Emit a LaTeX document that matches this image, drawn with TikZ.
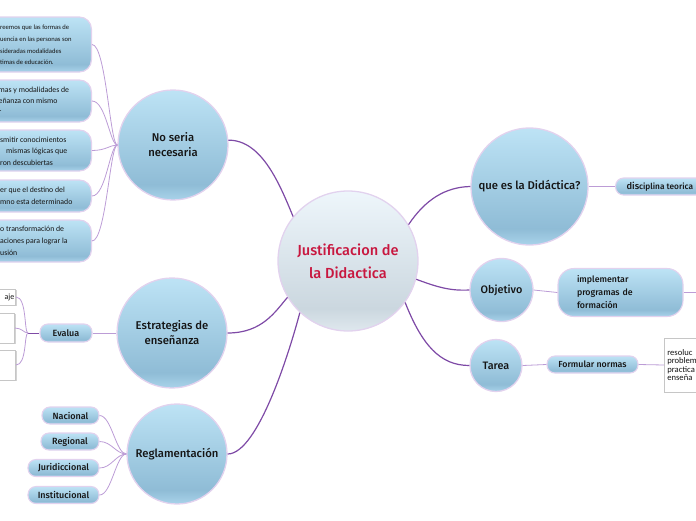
\documentclass[tikz,border=0pt]{standalone}
\usepackage{fontspec}
\setmainfont{Carlito}
\newfontfamily\fira{Fira Sans Medium}
\usetikzlibrary{shadows}
\definecolor{bsT}{HTML}{BDE3F5}
\definecolor{bsD}{HTML}{8FBCD6}
\definecolor{bsB}{HTML}{A9D3EA}
\definecolor{gT}{HTML}{EEF6FB}
\definecolor{gD}{HTML}{CBD7DF}
\definecolor{gB}{HTML}{DFE8EE}
\definecolor{bord}{HTML}{E2D2EE}
\definecolor{txt}{HTML}{151515}
\definecolor{ctxt}{HTML}{C8173F}
\definecolor{mline}{HTML}{7E4AA6}
\definecolor{lline}{HTML}{BC9CD6}
\definecolor{wbord}{HTML}{C6C6C6}
\pgfdeclareverticalshading{bluesh}{100bp}{color(0bp)=(bsB); color(25bp)=(bsB); color(32bp)=(bsD); color(75bp)=(bsT); color(100bp)=(bsT)}
\pgfdeclareverticalshading{greysh}{100bp}{color(0bp)=(gB); color(25bp)=(gB); color(33bp)=(gD); color(75bp)=(gT); color(100bp)=(gT)}
\tikzset{
  circ/.style={circle, draw=bord, line width=1.3pt, shading=bluesh, inner sep=0pt, align=center, font=\fira\fontsize{11.3}{15}\selectfont, text=txt},
  pill/.style={rectangle, rounded corners=8pt, draw=bord, line width=1.1pt, shading=bluesh, inner sep=0pt, font=\fira\fontsize{9}{11}\selectfont, text=txt},
  leafbox/.style={rectangle, rounded corners=12pt, draw=bord, line width=1.2pt, shading=bluesh, inner sep=0pt},
  smalltxt/.style={inner sep=0pt, align=left, text=txt},
  wbox/.style={rectangle, draw=wbord, line width=0.6pt, fill=white, drop shadow={shadow xshift=1pt, shadow yshift=-1pt, opacity=0.35, fill=gray}},
  mainline/.style={draw=mline, line width=1.2pt},
  lightline/.style={draw=lline, line width=0.8pt},
}
\begin{document}
\begin{tikzpicture}[x=1pt,y=-1pt]
\useasboundingbox (0,0) rectangle (696,520);
\clip (0,0) rectangle (696,520);

% ---- left boxes of "No seria necesaria"
\node[leafbox, minimum width=130pt, minimum height=55pt, anchor=east] (nb1) at (92,44.5) {};
\node[leafbox, minimum width=130pt, minimum height=42pt, anchor=east] (nb2) at (92,101) {};
\node[leafbox, minimum width=130pt, minimum height=41pt, anchor=east] (nb3) at (92,150.5) {};
\node[leafbox, minimum width=130pt, minimum height=32pt, anchor=east] (nb4) at (92,196) {};
\node[leafbox, minimum width=130pt, minimum height=42pt, anchor=east] (nb5) at (92,241) {};
\node[smalltxt, anchor=west, font=\fontsize{6.6}{11.7}\selectfont] (nt1) at (0,45) {reemos que las formas de\\uencia en las personas son\\sideradas modalidades\\timas de educación.};
\node[smalltxt, anchor=west, font=\fontsize{7.8}{11}\selectfont] (nt2) at (-1.5,101) {mas y modalidades de\\eñanza con mismo\\r};
\node[smalltxt, anchor=west, font=\fontsize{7.8}{11.5}\selectfont] (nt3) at (0,151) {smitir conocimientos\\\hspace*{6pt}mismas lógicas que\\ron descubiertas};
\node[smalltxt, anchor=west, font=\fontsize{7.8}{12}\selectfont] (nt4) at (0,196) {er que el destino del\\mno esta determinado};
\node[smalltxt, anchor=west, font=\fontsize{7.8}{12}\selectfont] (nt5) at (0,240.5) {o transformación de\\aciones para lograr la\\usión};

% ---- circles
\node[circle, draw=bord, line width=1.3pt, shading=greysh, inner sep=0pt, align=center, minimum size=140pt, font=\fira\fontsize{14.6}{23}\selectfont, text=ctxt] (c) at (348,261) {Justificacion de\\la Didactica};
\node[circ, minimum size=110pt] (ns) at (173,145) {No seria\\necesaria};
\node[circ, minimum size=110pt] (es) at (172,333) {Estrategias de\\enseñanza};
\node[circ, minimum size=100pt] (rg) at (177,454) {Reglamentación};
\node[circ, minimum size=117pt] (qd) at (529.5,186.5) {que es la Didáctica?};
\node[circ, minimum size=63pt, font=\fira\fontsize{10.8}{13}\selectfont] (ob) at (501.5,290) {Objetivo};
\node[circ, minimum size=52pt, font=\fira\fontsize{10.8}{13}\selectfont] (ta) at (496,365.5) {Tarea};

% ---- Estrategias children
\node[pill, minimum width=52pt, minimum height=18pt] (ev) at (66,333) {Evalua};
\node[wbox, minimum width=40pt, minimum height=16pt, anchor=east] (wb1) at (16,297) {};
\node[wbox, minimum width=40pt, minimum height=30pt, anchor=east] (wb2) at (15,328) {};
\node[wbox, minimum width=40pt, minimum height=30pt, anchor=east] (wb3) at (16,365) {};
\node[anchor=east, inner sep=0pt, font=\fontsize{8}{10}\selectfont, text=txt] (wt1) at (14.5,297) {aje};
\coordinate (j2) at (28,333);

% ---- Reglamentacion children
\node[pill, minimum width=57pt, minimum height=17pt] (na) at (70.5,415.5) {Nacional};
\node[pill, minimum width=58pt, minimum height=17pt] (re) at (70,441.5) {Regional};
\node[pill, minimum width=71pt, minimum height=17pt] (ju) at (63.5,468) {Juridiccional};
\node[pill, minimum width=71pt, minimum height=17pt] (in) at (63.5,495) {Institucional};

% ---- right side
\node[pill, anchor=west, inner xsep=11pt, minimum height=17pt, font=\fira\fontsize{8.3}{11}\selectfont] (di) at (615,186.5) {{\fontsize{9.3}{11}\selectfont dis}ciplina teorica};
\node[pill, rounded corners=16pt, text width=87pt, inner xsep=19pt, align=left, minimum height=48pt, font=\fira\fontsize{8.8}{13}\selectfont] (im) at (620.5,292.5) {implementar\\programas de\\formación};
\coordinate (imr) at (700,292.5);
\node[pill, minimum width=91pt, minimum height=17pt, font=\fira\fontsize{8.8}{11}\selectfont] (fo) at (592.5,364.5) {Formular normas};
\node[wbox, anchor=west, minimum height=54pt, text width=60pt, align=left, inner xsep=3pt, font=\fontsize{8.6}{8.5}\selectfont, text=txt] (wr) at (664,365) {resoluc\\problem\\practica\\enseña};

% ---- main connectors
\draw[mainline] (ns.5) .. controls (262,140) and (280,185) .. (c.141);
\draw[mainline] (es.east) .. controls (262,333) and (275,312) .. (c.211);
\draw[mainline] (rg.east) .. controls (258,454) and (290,350) .. (c.227);
\draw[mainline] (c.31) .. controls (425,200) and (445,187) .. (qd.west);
\draw[mainline] (c.-15) .. controls (437,287) and (450,291) .. (ob.west);
\draw[mainline] (c.-36) .. controls (422,345) and (440,365.5) .. (ta.west);

% ---- light connectors
\foreach \b in {nb1,nb2,nb3,nb4,nb5}
  \draw[lightline] (\b.east) .. controls +(14,0) and (110,145) .. (ns.west);
\draw[lightline] (es.west) -- (ev.east);
\draw[mainline, line width=0.9pt] (j2) -- (ev.west);
\draw[lightline] (wb1.east) .. controls (27,297) and (24,333) .. (j2);
\draw[lightline] (wb2.east) .. controls (22,328) and (24,333) .. (j2);
\draw[lightline] (wb3.east) .. controls (27,365) and (24,333) .. (j2);
\foreach \b in {na,re,ju,in}
  \draw[lightline] (\b.east) .. controls +(12,0) and (116,454) .. (rg.west);
\draw[lightline] (qd.east) -- (di.west);
\draw[lightline] (ob.east) -- (im.west);
\draw[lightline] (im.east) -- (imr);
\draw[lightline] (ta.east) -- (fo.west);
\draw[lightline] (fo.east) -- (wr.west);
\end{tikzpicture}
\end{document}
